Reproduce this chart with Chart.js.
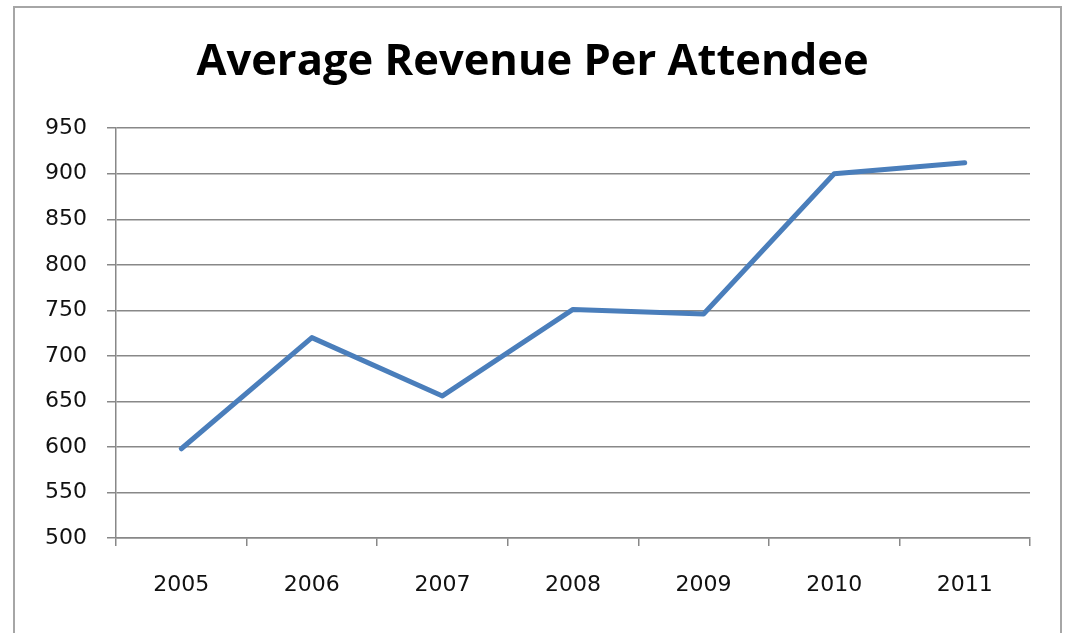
<!DOCTYPE html>
<html>
<head>
<meta charset="utf-8">
<script src="https://cdn.jsdelivr.net/npm/chart.js@4"></script>
<style>
  body { margin: 0; background: #fff; }
  #frame { position: absolute; left: 13px; top: 6px; width: 1045px; height: 700px; border: 2px solid #a6a6a6; }
  #wrap { position: absolute; left: 0; top: 0; width: 1065px; height: 633px; }
</style>
</head>
<body>
<div id="frame"></div>
<div id="wrap"><canvas id="myChart" width="1065" height="633"></canvas></div>
<script>
const years = ['2005', '2006', '2007', '2008', '2009', '2010', '2011']
const revenue = [598, 720, 656, 751, 746, 900, 912]
const chart_title = 'Average Revenue Per Attendee'

const tick_font = { family: 'DejaVu Sans', size: 22 }

let data = {
    labels: years,
    datasets: [{
        label: 'Revenue',
        data: revenue,
        borderColor: '#4a7ebb',
        backgroundColor: '#4a7ebb',
        borderWidth: 5,
        pointRadius: 0,
        tension: 0,
        borderCapStyle: 'round',
        borderJoinStyle: 'round',
        fill: false
    }]
}

let config = {
    type: 'line',
    data: data,
    options: {
        responsive: false,
        animation: false,
        layout: { padding: 0 },
        plugins: {
            legend: { display: false },
            tooltip: { enabled: false },
            title: {
                display: true,
                text: chart_title,
                color: '#000',
                font: { family: 'Open Sans', size: 43.5, weight: 'bold' },
                padding: { top: 37, bottom: 39 }
            }
        },
        scales: {
            x: {
                offset: true,
                grid: { display: true, drawOnChartArea: false, drawTicks: true, tickLength: 8, offset: true, color: '#888', lineWidth: 1.5 },
                border: { display: true, color: '#888', width: 1.5 },
                ticks: { color: '#111', font: tick_font, padding: 26, maxRotation: 0 },
                afterFit: function(scale) { scale.height = 95 }
            },
            y: {
                min: 500,
                max: 950,
                grid: { color: '#888', lineWidth: 1.5, tickLength: 9 },
                border: { display: true, color: '#888', width: 1.5 },
                ticks: { stepSize: 50, color: '#111', font: tick_font, padding: 20 },
                afterFit: function(scale) { scale.width = 116 }
            },
            // empty right-hand axis, only keeps room on the right so the title stays centred on the page
            y_right: {
                position: 'right',
                min: 500,
                max: 950,
                grid: { display: false },
                border: { display: false },
                ticks: { display: false },
                afterFit: function(scale) { scale.width = 35 }
            }
        }
    }
}

let myChart = new Chart(document.getElementById('myChart'), config)
</script>
</body>
</html>
